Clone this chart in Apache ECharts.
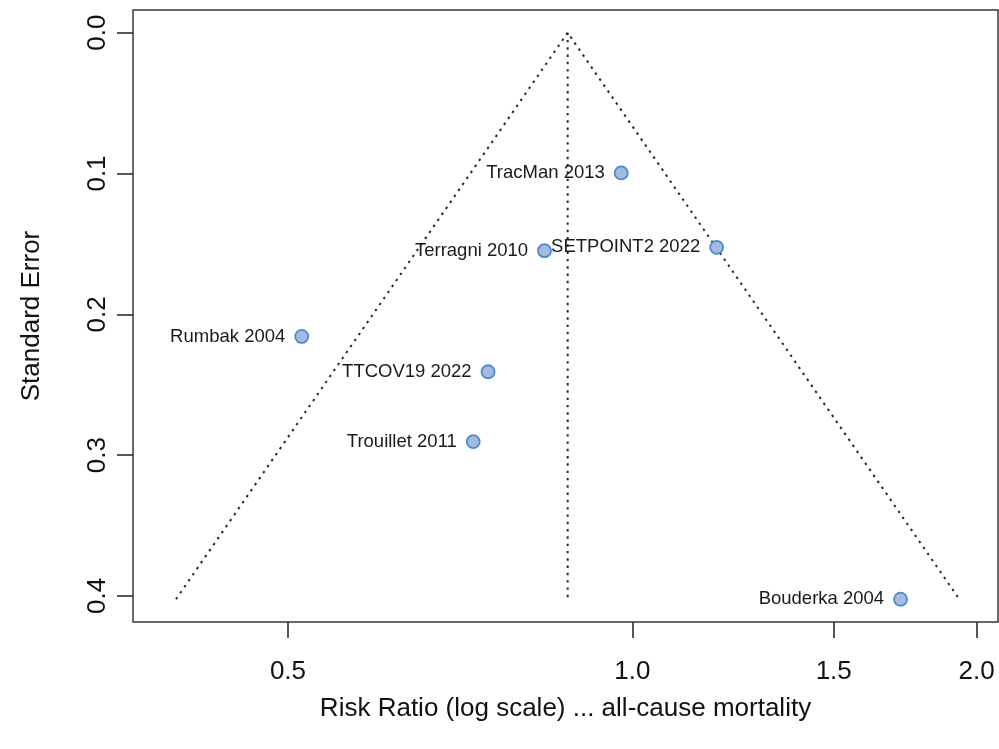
<!DOCTYPE html>
<html>
<head>
<meta charset="utf-8">
<title>Funnel plot: all-cause mortality</title>
<script src="https://cdn.jsdelivr.net/npm/echarts@6/dist/echarts.min.js"></script>
<style>
  html, body { margin: 0; padding: 0; background: #fff; }
  #chart { width: 999px; height: 749px; }
</style>
</head>
<body>
<div id="chart"></div>
<script>
// Study estimates (risk ratio) and their standard errors
const studies = ['TracMan 2013', 'SETPOINT2 2022', 'Terragni 2010', 'Rumbak 2004', 'TTCOV19 2022', 'Trouillet 2011', 'Bouderka 2004'];
const riskRatio = [0.978, 1.185, 0.838, 0.514, 0.748, 0.726, 1.716];
const stdError = [0.0996, 0.1524, 0.1548, 0.2157, 0.2408, 0.2904, 0.4023];

// Pooled estimate that centres the funnel
const pooledRR = 0.878;

// Axis ticks and limits (risk ratio on a log scale, SE reversed)
const xTicks = [0.5, 1.0, 1.5, 2.0];
const xLimits = [0.366, 2.088];
const yTicks = [0.0, 0.1, 0.2, 0.3, 0.4];
const yLimits = [-0.0161, 0.4185];

const ln = Math.log;
const seMax = Math.max(...stdError);
const centre = ln(pooledRR);
const z = 1.96;

const dotted = { color: '#262626', width: 2, type: [2.4, 4.9], cap: 'butt' };
const textFont = '"Liberation Sans", Arial, Helvetica, sans-serif';

const chart = echarts.init(document.getElementById('chart'), null, { renderer: 'canvas' });

chart.setOption({
  animation: false,
  backgroundColor: '#ffffff',
  textStyle: { fontFamily: textFont },
  grid: {
    left: 133, right: 1, top: 10, bottom: 127,
    show: true, borderColor: '#3a3a3a', borderWidth: 1.5, backgroundColor: 'transparent'
  },
  xAxis: {
    type: 'value',
    position: 'bottom',
    min: ln(xLimits[0]),
    max: ln(xLimits[1]),
    name: 'Risk Ratio (log scale) ... all-cause mortality',
    nameLocation: 'middle',
    nameGap: 74,
    nameTextStyle: { fontSize: 26, color: '#111', fontFamily: textFont },
    axisLine: { show: false, onZero: false },
    splitLine: { show: false },
    axisTick: {
      show: true, inside: false, length: 16,
      customValues: xTicks.map(v => ln(v)),
      lineStyle: { color: '#222', width: 1.5 }
    },
    axisLabel: {
      customValues: xTicks.map(v => ln(v)),
      formatter: v => Math.exp(v).toFixed(1),
      fontSize: 26, color: '#111', margin: 37, fontFamily: textFont
    }
  },
  yAxis: {
    type: 'value',
    position: 'left',
    inverse: true,
    min: yLimits[0],
    max: yLimits[1],
    name: 'Standard Error',
    nameLocation: 'middle',
    nameRotate: 90,
    nameGap: 88,
    nameTextStyle: { fontSize: 26, color: '#111', fontFamily: textFont },
    axisLine: { show: false, onZero: false },
    splitLine: { show: false },
    axisTick: {
      show: true, inside: false, length: 16,
      customValues: yTicks,
      lineStyle: { color: '#222', width: 1.5 }
    },
    axisLabel: {
      customValues: yTicks,
      formatter: v => v.toFixed(1),
      rotate: 90,
      fontSize: 26, color: '#111', margin: 22, fontFamily: textFont
    }
  },
  series: [
    {
      // funnel edges: pooled estimate +/- 1.96 * SE
      type: 'line',
      silent: true,
      symbol: 'none',
      lineStyle: dotted,
      data: [
        [centre - z * seMax, seMax],
        [centre, 0],
        [centre + z * seMax, seMax]
      ],
      z: 2
    },
    {
      // reference line at the pooled estimate
      type: 'line',
      silent: true,
      symbol: 'none',
      lineStyle: dotted,
      data: [[centre, 0], [centre, seMax]],
      z: 2
    },
    {
      type: 'scatter',
      symbol: 'circle',
      symbolSize: 13,
      itemStyle: { color: '#a4bbdf', borderColor: '#4a8bd0', borderWidth: 1.8, opacity: 1 },
      label: {
        show: true,
        position: 'left',
        distance: 9,
        formatter: p => p.name,
        fontSize: 18.5,
        color: '#1a1a1a',
        fontFamily: textFont
      },
      data: studies.map((name, i) => ({ name, value: [ln(riskRatio[i]), stdError[i]] })),
      z: 3
    }
  ]
});
</script>
</body>
</html>
